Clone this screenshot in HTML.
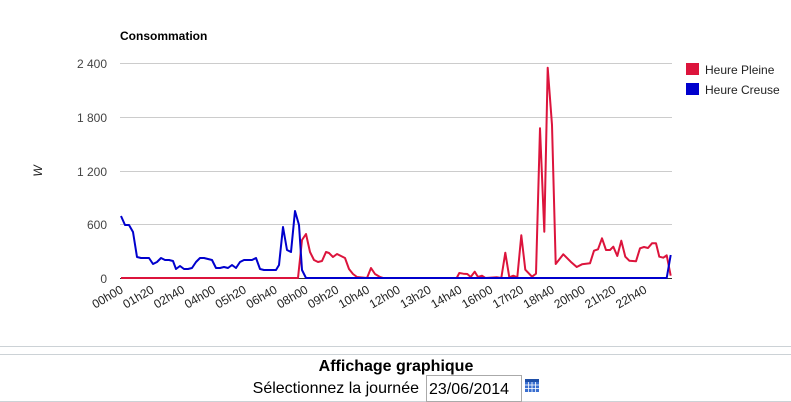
<!DOCTYPE html>
<html><head><meta charset="utf-8"><style>
html,body{margin:0;padding:0;background:#fff;width:791px;height:402px;overflow:hidden}
svg{position:absolute;left:0;top:0}
text{font-family:"Liberation Sans",Arial,sans-serif}
</style></head><body>
<svg width="791" height="402" viewBox="0 0 791 402">
<text x="120" y="40" font-size="12" font-weight="bold" fill="#000">Consommation</text>
<g stroke="#cccccc" stroke-width="1">
<line x1="120" y1="63.5" x2="672" y2="63.5"/>
<line x1="120" y1="117.5" x2="672" y2="117.5"/>
<line x1="120" y1="171.5" x2="672" y2="171.5"/>
<line x1="120" y1="224.5" x2="672" y2="224.5"/>
</g>
<line x1="120" y1="278.5" x2="672" y2="278.5" stroke="#333" stroke-width="1"/>
<g font-size="12" fill="#444" text-anchor="end">
<text x="107" y="68">2 400</text>
<text x="107" y="122">1 800</text>
<text x="107" y="176">1 200</text>
<text x="107" y="229">600</text>
<text x="107" y="283">0</text>
</g>
<text x="0" y="0" font-size="12" font-style="italic" fill="#222" transform="translate(42,171) rotate(-90)" text-anchor="middle">W</text>
<g font-size="12" fill="#222" text-anchor="end">
<text transform="translate(124,292) rotate(-30)">00h00</text>
<text transform="translate(154.8,292) rotate(-30)">01h20</text>
<text transform="translate(185.6,292) rotate(-30)">02h40</text>
<text transform="translate(216.4,292) rotate(-30)">04h00</text>
<text transform="translate(247.2,292) rotate(-30)">05h20</text>
<text transform="translate(278,292) rotate(-30)">06h40</text>
<text transform="translate(308.8,292) rotate(-30)">08h00</text>
<text transform="translate(339.6,292) rotate(-30)">09h20</text>
<text transform="translate(370.4,292) rotate(-30)">10h40</text>
<text transform="translate(401.2,292) rotate(-30)">12h00</text>
<text transform="translate(432,292) rotate(-30)">13h20</text>
<text transform="translate(462.8,292) rotate(-30)">14h40</text>
<text transform="translate(493.6,292) rotate(-30)">16h00</text>
<text transform="translate(524.4,292) rotate(-30)">17h20</text>
<text transform="translate(555.2,292) rotate(-30)">18h40</text>
<text transform="translate(586,292) rotate(-30)">20h00</text>
<text transform="translate(616.8,292) rotate(-30)">21h20</text>
<text transform="translate(647.6,292) rotate(-30)">22h40</text>
</g>
<polyline fill="none" stroke="#dc143c" stroke-width="2" stroke-linejoin="round" points="121,278 298,278 302,240 306,234 310,252 314,260 318,262 322,261 326,252 329,253 333,257 337,254 341,256 345,258 349,269 353,274 357,277 367,278 371,268 375,274 380,277 383,278 456.7,278 459.3,273 463.3,273.7 467.3,274 470.7,277 474.7,271.7 478,277 482,275.7 485.3,278 496.7,277.3 501.3,278 505.3,252.7 509.3,277.3 513.3,275.7 517.3,277.3 521.3,235.3 525.3,269.7 532,276.7 536,273.7 540,128.3 544.3,231.7 547.7,67.7 552,125 555.7,264 563.3,254.3 570.7,261.7 576.7,267 582,264.3 590,263.3 594,250.7 598,249.3 602,238.3 606,250 610,250 613.3,246.7 617.3,256 621.3,240.7 625.3,256.7 629.3,260.7 636,261.3 640,248.3 644,247 648,248 652,243.3 656,243.3 659.3,256.7 663.3,257.7 666.7,255.3 670.7,275.7"/>
<polyline fill="none" stroke="#0000cd" stroke-width="2" stroke-linejoin="round" points="121,216 125,225 129,225 133,232 137,257 141,258 145,258 149,258 153,264 157,262 161,258 165,260 169,260 173,261 176,269 180,266 184,269 188,269 192,268 196,262 200,258 204,258 208,259 212,260 216,268 220,268 224,267 228,268 232,265 236,268 240,262 244,260 248,260 252,260 256,258 260,269 264,270 268,270 272,270 276,270 279,265 283,227 287,250 291,252 295,211 299,225 302,270 306,278 666.7,278 670.7,255"/>
<rect x="686" y="63" width="13" height="12" fill="#dc143c"/>
<rect x="686" y="83" width="13" height="12" fill="#0000cd"/>
<text x="705" y="74" font-size="12" fill="#222">Heure Pleine</text>
<text x="705" y="94" font-size="12" fill="#222">Heure Creuse</text>
<line x1="0" y1="346.5" x2="791" y2="346.5" stroke="#ccd2d6"/>
<line x1="0" y1="354.5" x2="791" y2="354.5" stroke="#ccd2d6"/>
<line x1="0" y1="401.5" x2="791" y2="401.5" stroke="#ccd2d6"/>
<text x="396" y="371" font-size="16" font-weight="bold" fill="#000" text-anchor="middle">Affichage graphique</text>
<text x="419" y="393" font-size="16" fill="#000" text-anchor="end">Sélectionnez la journée</text>
<rect x="426.5" y="375.5" width="95" height="26" fill="#fff" stroke="#aaa"/>
<text x="429" y="394" font-size="16" fill="#000">23/06/2014</text>
<g>
<rect x="525" y="379" width="14" height="13" fill="#3a6fd0"/>
<rect x="525" y="379" width="14" height="3" fill="#1e4fa8"/>
<g stroke="#fff" stroke-width="0.8">
<line x1="525" y1="385" x2="539" y2="385"/><line x1="525" y1="388.5" x2="539" y2="388.5"/>
<line x1="528.5" y1="382" x2="528.5" y2="392"/><line x1="532" y1="382" x2="532" y2="392"/><line x1="535.5" y1="382" x2="535.5" y2="392"/>
</g>
</g>
</svg>
</body></html>
